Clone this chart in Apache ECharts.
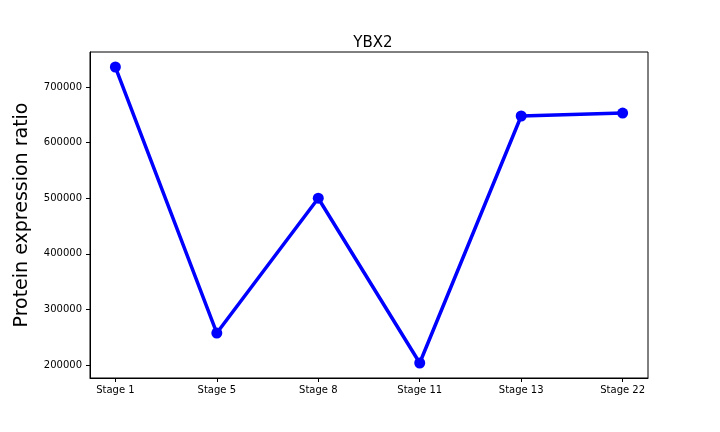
<!DOCTYPE html>
<html>
<head>
<meta charset="utf-8">
<script src="https://cdn.jsdelivr.net/npm/echarts@6/dist/echarts.min.js"></script>
<style>html,body{margin:0;padding:0;background:#fff}#main{width:720px;height:432px}</style>
</head>
<body>
<div id="main"></div>
<script>
const stages = ['Stage 1', 'Stage 5', 'Stage 8', 'Stage 11', 'Stage 13', 'Stage 22']
const ratios = [736000, 257500, 500000, 203600, 647900, 653200]
const yTicks = [200000, 300000, 400000, 500000, 600000, 700000]
const xTicks = [0, 1, 2, 3, 4, 5]

var myChart = echarts.init(document.getElementById('main'))
var option = {
    animation: false,
    title: {
        text: 'YBX2', left: 368, top: 31, textAlign: 'center',
        textStyle: { fontFamily: 'DejaVu Sans', fontSize: 15, fontWeight: 'normal', color: '#000' }
    },
    grid: { left: 90, right: 72, top: 52, bottom: 54 },
    xAxis: {
        type: 'value', min: -0.25, max: 5.25,
        axisLine: { onZero: false, lineStyle: { color: '#000' } },
        axisTick: { show: true, length: 4, lineStyle: { color: '#000' }, customValues: xTicks },
        splitLine: { show: false },
        axisLabel: {
            color: '#000', fontFamily: 'DejaVu Sans', fontSize: 10, margin: 7,
            customValues: xTicks,
            formatter: function (v) { return stages[Math.round(v)] }
        }
    },
    yAxis: {
        type: 'value', min: 176600, max: 763000,
        name: 'Protein expression ratio', nameLocation: 'middle', nameGap: 58,
        nameTextStyle: { fontFamily: 'DejaVu Sans', fontSize: 19, color: '#000' },
        axisLine: { show: true, onZero: false, lineStyle: { color: '#000' } },
        axisTick: { show: true, length: 4, lineStyle: { color: '#000' }, customValues: yTicks },
        splitLine: { show: false },
        axisLabel: { color: '#000', fontFamily: 'DejaVu Sans', fontSize: 10,
            customValues: yTicks, formatter: function (v) { return String(v) } }
    },
    series: [{
        type: 'line',
        data: ratios.map(function (v, i) { return [i, v] }),
        symbol: 'circle', symbolSize: 11,
        lineStyle: { color: '#0000ff', width: 3.5 },
        itemStyle: { color: '#0000ff' }
    }],
    graphic: [{ type: 'rect', shape: { x: 90, y: 52, width: 558, height: 326 },
        style: { fill: 'none', stroke: '#000', lineWidth: 1 }, silent: true }]
}
myChart.setOption(option)
</script>
</body>
</html>
